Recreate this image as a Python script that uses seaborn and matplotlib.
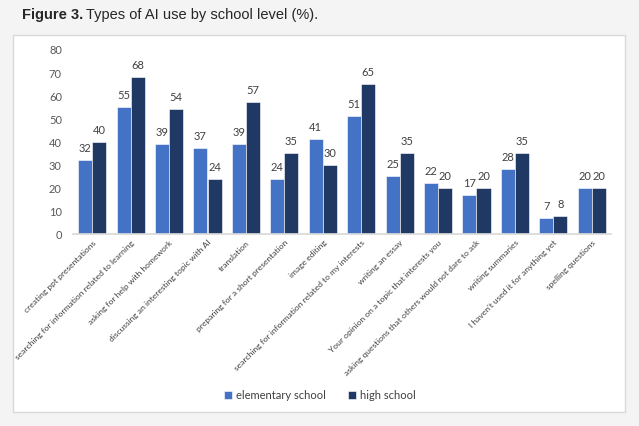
import matplotlib
matplotlib.use("Agg")
import matplotlib.pyplot as plt
import seaborn as sns
import pandas as pd
from matplotlib.patches import Rectangle

categories = [
    "creating ppt presentations",
    "searching for information related to learning",
    "asking for help with homework",
    "discussing an interesting topic with AI",
    "translation",
    "preparing for a short presentation",
    "image editing",
    "searching for information related to my interests",
    "writing an essay",
    "Your opinion on a topic that interests you",
    "asking questions that others would not dare to ask",
    "writing summaries",
    "I haven't used it for anything yet",
    "spelling questions",
]
elementary = [32, 55, 39, 37, 39, 24, 41, 51, 25, 22, 17, 28, 7, 20]
high = [40, 68, 54, 24, 57, 35, 30, 65, 35, 20, 20, 35, 8, 20]
series_names = ["elementary school", "high school"]
yticks = [0, 10, 20, 30, 40, 50, 60, 70, 80]

df = pd.DataFrame({
    "category": categories * 2,
    "value": elementary + high,
    "level": [series_names[0]] * len(categories) + [series_names[1]] * len(categories),
})

sns.set_theme(style="white")
plt.rcParams["font.family"] = ["Lato", "DejaVu Sans"]

fig = plt.figure(figsize=(6.39, 4.27), dpi=100)
fig.patch.set_facecolor("#f4f4f4")
panel = Rectangle((13 / 639, 1 - 413 / 427), (625 - 13) / 639, (413 - 36) / 427,
                  transform=fig.transFigure, facecolor="white", edgecolor="#d9d9d9",
                  linewidth=1.0, zorder=-5)
fig.patches.append(panel)

fig.text(22 / 639, 1 - 15 / 427, "Figure 3.", fontsize=10.5, fontweight="bold",
         family=["Liberation Sans", "DejaVu Sans"], va="center", ha="left")
fig.text(82 / 639, 1 - 15 / 427, " Types of AI use by school level (%).", fontsize=10.5,
         family=["Liberation Sans", "DejaVu Sans"], va="center", ha="left")

ax = fig.add_axes([73 / 639, 1 - 235 / 427, (611 - 73) / 639, (235 - 50) / 427])
ax.patch.set_alpha(0)
palette = {series_names[0]: "#4472c4", series_names[1]: "#203864"}
sns.barplot(data=df, x="category", y="value", hue="level", palette=palette,
            width=0.73, gap=0, saturation=1, ax=ax, order=categories,
            hue_order=series_names, legend=True, edgecolor="white", linewidth=0.4)

for cont in ax.containers:
    ax.bar_label(cont, fmt="%d", padding=5, fontsize=8, color="#404040")

ax.set_ylim(0, 80)
ax.set_yticks(yticks)
ax.set_yticklabels([str(t) for t in yticks], fontsize=8, color="#595959")
ax.set_xlim(-0.5, len(categories) - 0.5)
ax.set_xlabel("")
ax.set_ylabel("")
ax.set_xticks(range(len(categories)))
ax.set_xticklabels(categories, rotation=45, ha="right", rotation_mode="anchor",
                   fontsize=6.1, color="#404040")
ax.tick_params(axis="x", length=0, pad=3)
ax.tick_params(axis="y", length=0, pad=8)
for s in ["top", "right", "left"]:
    ax.spines[s].set_visible(False)
ax.spines["bottom"].set_color("#d9d9d9")
ax.spines["bottom"].set_bounds(-0.5, len(categories) - 0.5)
ax.grid(False)

handles, labels = ax.get_legend_handles_labels()
ax.legend_.remove()
fig.legend(handles, labels, loc="center", bbox_to_anchor=(320 / 639, 1 - 396 / 427),
           ncol=2, frameon=False, fontsize=8, handlelength=0.7, handleheight=0.7,
           columnspacing=2.0, handletextpad=0.4, labelcolor="#404040")

fig.savefig("out.png", dpi=100, facecolor=fig.get_facecolor())
